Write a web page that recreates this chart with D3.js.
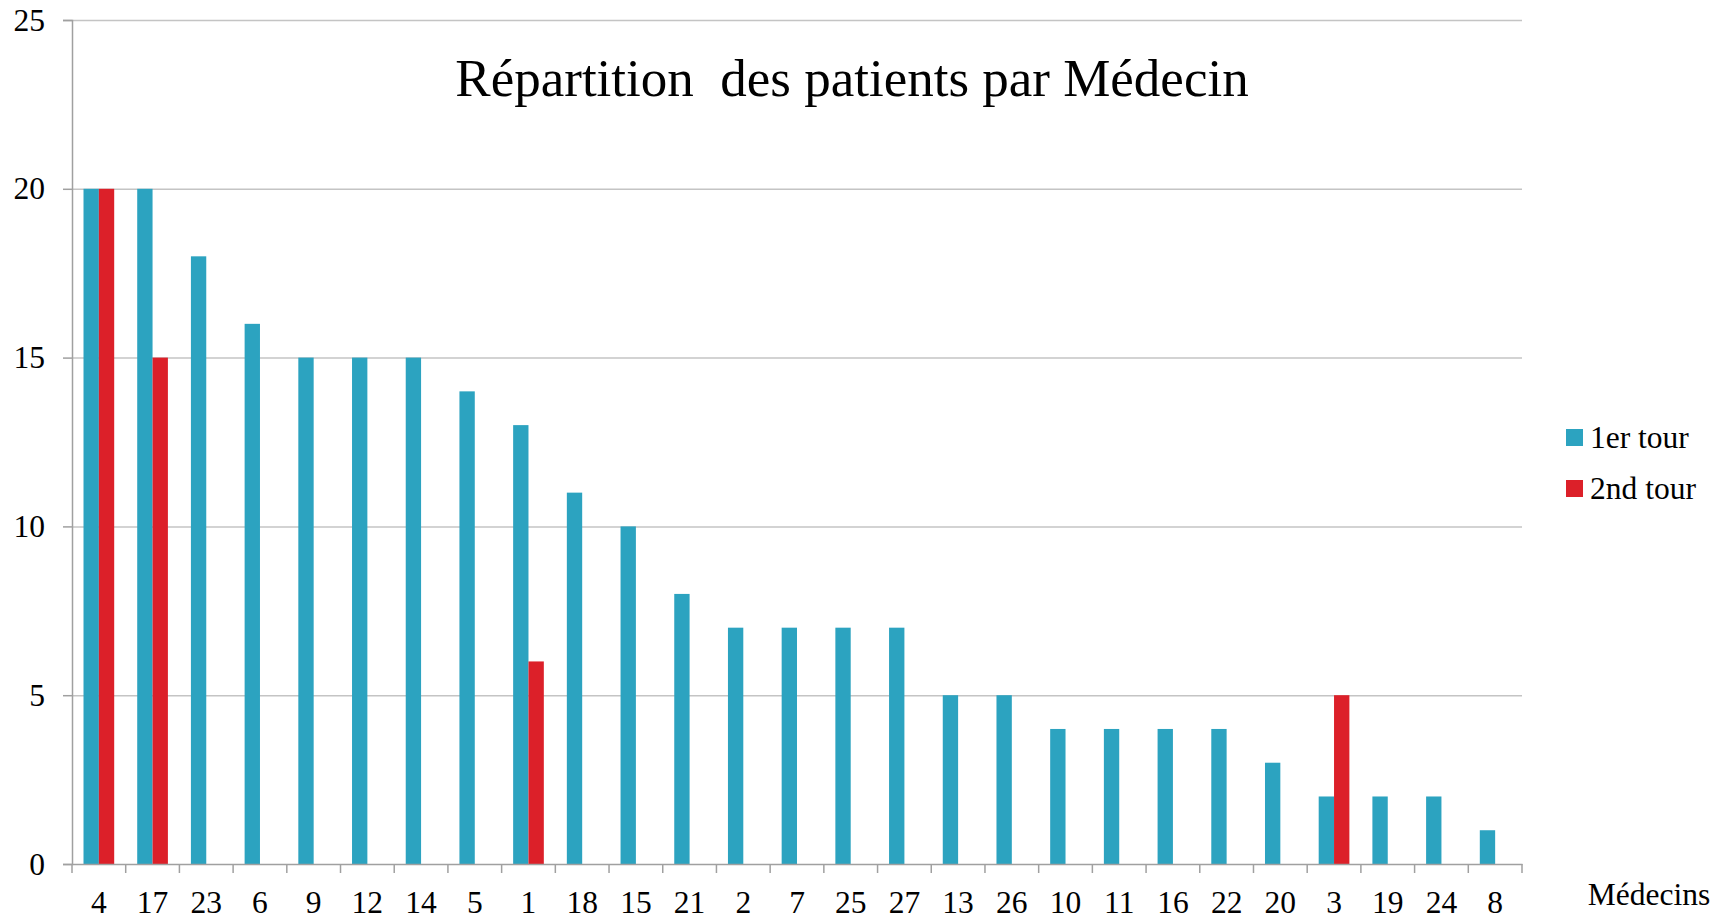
<!DOCTYPE html>
<html>
<head>
<meta charset="utf-8">
<script src="https://cdn.jsdelivr.net/npm/d3@7"></script>
<style>
  body { margin: 0; background: #fff; }
  svg text { font-family: "Liberation Serif", "Times New Roman", serif; fill: #000; }
</style>
</head>
<body>
<div id="chart"></div>
<script>
(function() {
    // Data
    var medecins = ['4', '17', '23', '6', '9', '12', '14', '5', '1', '18', '15', '21', '2', '7',
                    '25', '27', '13', '26', '10', '11', '16', '22', '20', '3', '19', '24', '8'];
    var tour1 = [20, 20, 18, 16, 15, 15, 15, 14, 13, 11, 10, 8, 7, 7, 7, 7, 5, 5, 4, 4, 4, 4, 3, 2, 2, 2, 1];
    var tour2 = [20, 15, 0, 0, 0, 0, 0, 0, 6, 0, 0, 0, 0, 0, 0, 0, 0, 0, 0, 0, 0, 0, 0, 5, 0, 0, 0];
    var seriesNames = ['1er tour', '2nd tour'];
    var yTicks = [0, 5, 10, 15, 20, 25];

    var colors = ['#2ca3c0', '#dc2029'];
    var width = 1729, height = 920;
    var margin = { top: 20, right: 207, bottom: 56, left: 72 };
    var labelSize = '31.5px';

    var svg = d3.select('#chart')
        .append('svg')
        .attr('width', width)
        .attr('height', height);

    var x = d3.scaleBand()
        .domain(medecins)
        .range([margin.left, width - margin.right])
        .paddingInner(0)
        .paddingOuter(0);

    var xSub = d3.scaleBand()
        .domain(seriesNames)
        .range([0, x.bandwidth()])
        .paddingInner(0)
        .paddingOuter(0.75);

    var y = d3.scaleLinear()
        .domain([0, 25])
        .range([height - margin.bottom, margin.top]);

    // Gridlines
    svg.append('g')
        .attr('class', 'grid')
        .attr('transform', `translate(${margin.left}, 0)`)
        .call(d3.axisLeft(y).tickValues(yTicks.slice(1)).tickSize(-(width - margin.left - margin.right)).tickFormat(''))
        .call(g => g.select('.domain').remove())
        .selectAll('line')
        .attr('stroke', '#c4c4c4')
        .attr('stroke-width', 1.5);

    // Bars
    var rows = medecins.map((m, i) => ({ m: m, values: [tour1[i], tour2[i]] }));
    var groups = svg.append('g')
        .selectAll('g')
        .data(rows)
        .enter()
        .append('g')
        .attr('transform', d => `translate(${x(d.m)}, 0)`);

    groups.selectAll('rect')
        .data(d => d.values.map((v, k) => ({ name: seriesNames[k], value: v, k: k })))
        .enter()
        .filter(d => d.value > 0)
        .append('rect')
        .attr('x', d => xSub(d.name))
        .attr('y', d => y(d.value))
        .attr('width', xSub.bandwidth())
        .attr('height', d => y(0) - y(d.value))
        .attr('fill', d => colors[d.k]);

    // Y axis
    var yAxis = svg.append('g')
        .attr('transform', `translate(${margin.left}, 0)`)
        .call(d3.axisLeft(y).tickValues(yTicks).tickSize(9).tickPadding(18));
    yAxis.select('.domain').attr('stroke', '#a0a0a0').attr('stroke-width', 1.5);
    yAxis.selectAll('line').attr('stroke', '#a0a0a0').attr('stroke-width', 1.5);
    yAxis.selectAll('text')
        .attr('font-family', '"Liberation Serif", serif')
        .style('font-size', labelSize)
        .attr('fill', '#000');

    // X axis
    var xAxis = svg.append('g')
        .attr('transform', `translate(0, ${y(0)})`)
        .call(d3.axisBottom(x).tickSize(0).tickPadding(27));
    xAxis.select('.domain').attr('stroke', '#a0a0a0').attr('stroke-width', 1.5);
    xAxis.selectAll('text')
        .attr('font-family', '"Liberation Serif", serif')
        .style('font-size', labelSize)
        .attr('fill', '#000');

    // tick marks between categories
    var edges = medecins.map(m => x(m)).concat([x.range()[1]]);
    xAxis.selectAll('.edge')
        .data(edges)
        .enter()
        .append('line')
        .attr('class', 'edge')
        .attr('x1', d => d)
        .attr('x2', d => d)
        .attr('y1', 0)
        .attr('y2', 9)
        .attr('stroke', '#a0a0a0')
        .attr('stroke-width', 1.5);

    // Title
    svg.append('text')
        .attr('x', 852)
        .attr('y', 96)
        .attr('text-anchor', 'middle')
        .style('font-size', '53px')
        .style('white-space', 'pre')
        .text('Répartition  des patients par Médecin');

    // X axis label
    svg.append('text')
        .attr('x', 1649)
        .attr('y', 905)
        .attr('text-anchor', 'middle')
        .style('font-size', labelSize)
        .text('Médecins');

    // Legend
    var legend = svg.append('g')
        .attr('transform', 'translate(1566, 429)')
        .selectAll('g')
        .data(seriesNames)
        .enter()
        .append('g')
        .attr('transform', (d, i) => `translate(0, ${i * 51})`);

    legend.append('rect')
        .attr('width', 17)
        .attr('height', 17)
        .attr('fill', (d, i) => colors[i]);

    legend.append('text')
        .attr('x', 24)
        .attr('y', 19)
        .style('font-size', labelSize)
        .text(d => d);
})();
</script>
</body>
</html>
